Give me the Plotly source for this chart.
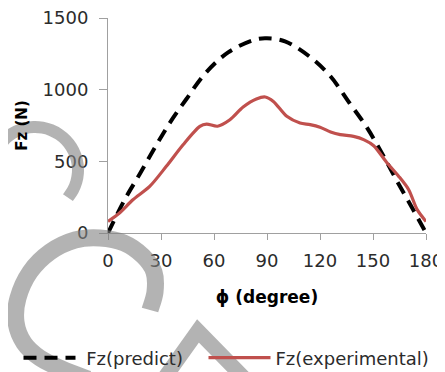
import plotly.graph_objects as go
import math

# ---- data ----
pred_phi = [0, 9.4, 17.9, 26.4, 34.9, 44.4, 54.8, 68, 83.2, 90, 100.2, 114.4, 125.8, 136.7, 146.6, 156, 163.6, 172.2, 180]
pred_fz = [0, 232, 410, 593, 767, 935, 1110, 1260, 1349, 1358, 1337, 1228, 1095, 907, 735, 535, 362, 174, 0]

exp_phi = [0, 6.5, 14.1, 23.6, 33, 42.5, 52, 55.8, 62, 69, 76.5, 84, 89, 93.6, 101.2, 108.7, 114.4, 120, 126,
           131.5, 139, 145, 150.4, 158, 164.6, 170.2, 175, 180]
exp_fz = [81, 140, 232, 325, 465, 616, 744, 760, 745, 790, 879, 935, 949, 918, 814, 767, 756, 738, 705,
          686, 674, 650, 609, 488, 395, 302, 163, 81]

x_ticks = [0, 30, 60, 90, 120, 150, 180]
y_ticks = [0, 500, 1000, 1500]

# the page body adds an 8px margin, so the figure is drawn 8px in from the top-left
OFF = 8
W, H = 445 - OFF, 372 - OFF
PX0, PX1, PY0, PY1 = 108, 426, 18, 233          # plot area in screenshot pixels
ML, MR, MT, MB = PX0 - OFF, 445 - PX1, PY0 - OFF, 372 - PY1
PW, PH = PX1 - PX0, PY1 - PY0

FONT = "DejaVu Sans"
TXT = "#2b2b2b"

fig = go.Figure()
fig.add_trace(go.Scatter(x=pred_phi, y=pred_fz, mode="lines", name="\u00a0Fz(predict)", legend="legend",
                         line=dict(color="black", width=4, dash="13px,8px", shape="spline", smoothing=1.0)))
fig.add_trace(go.Scatter(x=exp_phi, y=exp_fz, mode="lines", name="Fz(experimental)", legend="legend2",
                         line=dict(color="#c0504d", width=3.2, shape="spline", smoothing=0.8)))


# ---- decorative watermark (screenshot pixel coordinates -> paper) ----
def P(px, py):
    return (px - PX0) / PW, (PY1 - py) / PH


def catmull(points):
    pts = [P(*p) for p in points]
    d = "M %.5f,%.5f" % pts[0]
    for i in range(len(pts) - 1):
        p0 = pts[i - 1] if i > 0 else pts[i]
        p1, p2 = pts[i], pts[i + 1]
        p3 = pts[i + 2] if i + 2 < len(pts) else pts[i + 1]
        c1 = (p1[0] + (p2[0] - p0[0]) / 6, p1[1] + (p2[1] - p0[1]) / 6)
        c2 = (p2[0] - (p3[0] - p1[0]) / 6, p2[1] - (p3[1] - p1[1]) / 6)
        d += " C %.5f,%.5f %.5f,%.5f %.5f,%.5f" % (c1 + c2 + p2)
    return d


arcA = [(35 + 43 * math.cos(math.radians(a)), 170 + 43 * math.sin(math.radians(a)))
        for a in range(-152, 46, 12)]
arcB = [(150, 310), (155, 292), (154, 272), (143, 256), (124, 243), (100, 238), (75, 240),
        (50, 252), (30, 272), (18, 298), (16, 322), (24, 343), (40, 358), (62, 369), (88, 379)]
caret = [(163, 380), (198, 331), (246, 380)]

wm = dict(type="path", xref="paper", yref="paper", layer="above", opacity=0.6)
shapes = [
    dict(path=catmull(arcA), line=dict(color="rgb(130,130,130)", width=12), **wm),
    dict(path=catmull(arcB), line=dict(color="rgb(130,130,130)", width=17), **wm),
    dict(path="M %.5f,%.5f L %.5f,%.5f L %.5f,%.5f" % (P(*caret[0]) + P(*caret[1]) + P(*caret[2])),
         line=dict(color="rgb(130,130,130)", width=15), **wm),
]

leg = dict(orientation="h", xanchor="left", yanchor="middle",
           font=dict(family=FONT, size=18, color=TXT), bgcolor="rgba(0,0,0,0)")

fig.update_layout(
    width=W, height=H,
    margin=dict(l=ML, r=MR, t=MT, b=MB, pad=0, autoexpand=False),
    paper_bgcolor="white", plot_bgcolor="white",
    font=dict(family=FONT, size=18, color=TXT),
    showlegend=True,
    legend=dict(x=P(18.5, 0)[0], y=P(0, 358)[1], itemwidth=52, **leg),
    legend2=dict(x=P(203.5, 0)[0], y=P(0, 358)[1], itemwidth=62, **leg),
    shapes=shapes,
)
fig.update_xaxes(range=[0, 180], tickvals=x_ticks, ticktext=[str(v) for v in x_ticks], automargin=False,
                 showgrid=False, zeroline=False, showline=True, linecolor="#a0a0a0", linewidth=1,
                 ticks="outside", ticklen=6, tickcolor="#a0a0a0", ticklabelstandoff=5,
                 ticklabeloverflow="allow",
                 tickfont=dict(family=FONT, size=18, color=TXT),
                 title=dict(text="<b>ϕ (degree)</b>", font=dict(family=FONT, size=17, color="black"), standoff=21))
fig.update_yaxes(range=[0, 1500], tickvals=y_ticks, ticktext=[str(v) for v in y_ticks], automargin=False,
                 showgrid=False, zeroline=False, showline=True, linecolor="#a0a0a0", linewidth=1,
                 ticks="outside", ticklen=8, tickcolor="#a0a0a0", ticklabelstandoff=7,
                 ticklabeloverflow="allow",
                 tickfont=dict(family=FONT, size=18, color=TXT),
                 title=dict(text="<b>Fz (N)</b>", font=dict(family=FONT, size=15, color="black"), standoff=11))

fig.write_html("out.html")
